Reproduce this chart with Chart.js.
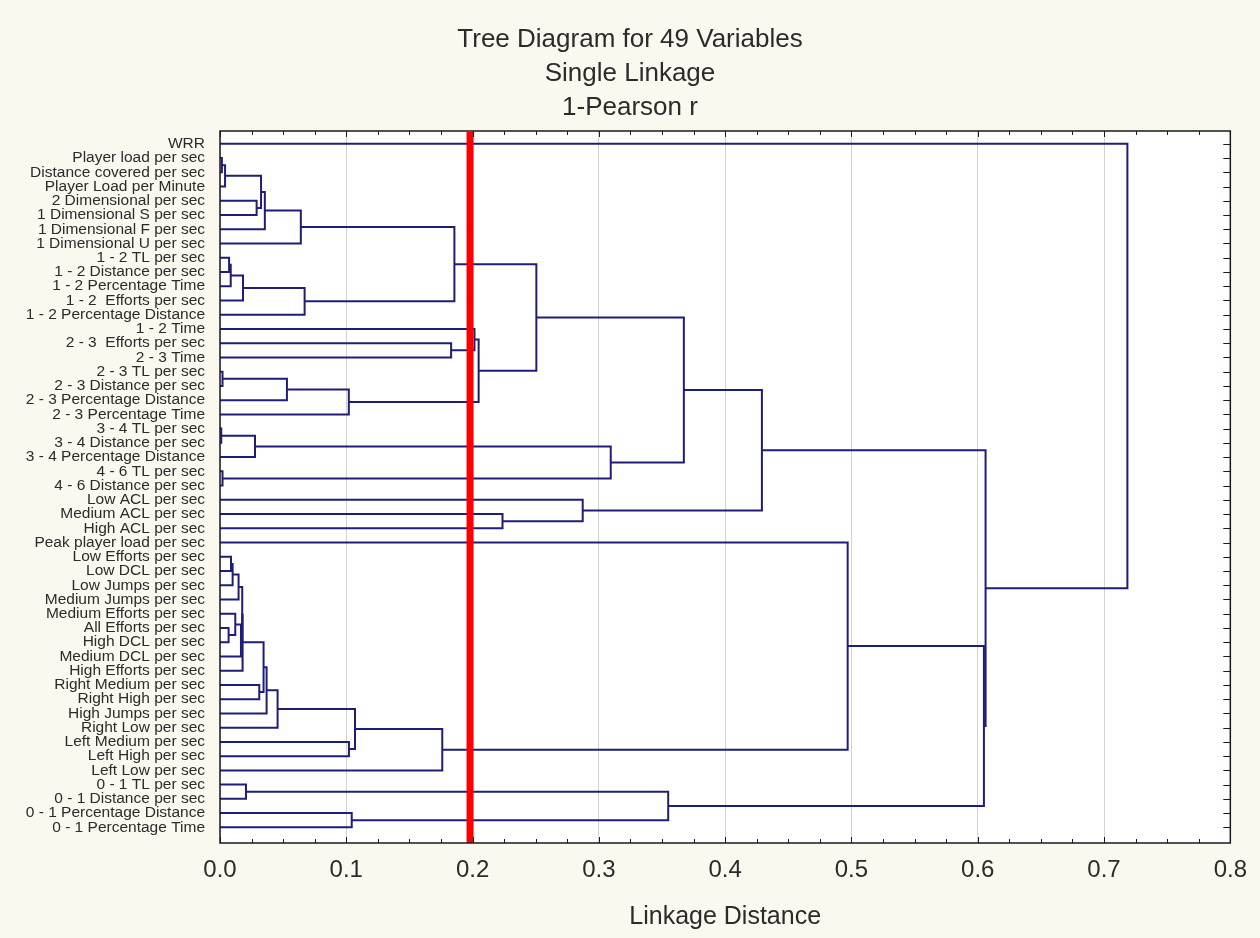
<!DOCTYPE html>
<html>
<head>
<meta charset="utf-8">
<title>Tree Diagram for 49 Variables</title>
<script src="https://cdn.jsdelivr.net/npm/chart.js@4.4.1/dist/chart.umd.min.js"></script>
<style>
  html, body { margin: 0; padding: 0; background: #fbf8f0; }
  #wrap { width: 1260px; height: 938px; }
</style>
</head>
<body>
<div id="wrap"><canvas id="tree" width="1260" height="938"></canvas></div>
<script>
// leaves, top to bottom, in dendrogram order
const leafLabels = [
  'WRR',
  'Player load per sec',
  'Distance covered per sec',
  'Player Load per Minute',
  '2 Dimensional per sec',
  '1 Dimensional S per sec',
  '1 Dimensional F per sec',
  '1 Dimensional U per sec',
  '1 - 2 TL per sec',
  '1 - 2 Distance per sec',
  '1 - 2 Percentage Time',
  '1 - 2  Efforts per sec',
  '1 - 2 Percentage Distance',
  '1 - 2 Time',
  '2 - 3  Efforts per sec',
  '2 - 3 Time',
  '2 - 3 TL per sec',
  '2 - 3 Distance per sec',
  '2 - 3 Percentage Distance',
  '2 - 3 Percentage Time',
  '3 - 4 TL per sec',
  '3 - 4 Distance per sec',
  '3 - 4 Percentage Distance',
  '4 - 6 TL per sec',
  '4 - 6 Distance per sec',
  'Low ACL per sec',
  'Medium ACL per sec',
  'High ACL per sec',
  'Peak player load per sec',
  'Low Efforts per sec',
  'Low DCL per sec',
  'Low Jumps per sec',
  'Medium Jumps per sec',
  'Medium Efforts per sec',
  'All Efforts per sec',
  'High DCL per sec',
  'Medium DCL per sec',
  'High Efforts per sec',
  'Right Medium per sec',
  'Right High per sec',
  'High Jumps per sec',
  'Right Low per sec',
  'Left Medium per sec',
  'Left High per sec',
  'Left Low per sec',
  '0 - 1 TL per sec',
  '0 - 1 Distance per sec',
  '0 - 1 Percentage Distance',
  '0 - 1 Percentage Time'
];

// [node a, node b, linkage distance]; nodes 0-48 are leaves, each merge gets the next id (49, 50, ...)
const merges = [
  [1, 2, 0.0015],   // 49
  [49, 3, 0.004],   // 50
  [4, 5, 0.029],    // 51
  [50, 51, 0.0325], // 52
  [52, 6, 0.0355],  // 53
  [53, 7, 0.064],   // 54
  [8, 9, 0.0072],   // 55
  [55, 10, 0.0085], // 56
  [56, 11, 0.0182], // 57
  [57, 12, 0.067],  // 58
  [54, 58, 0.1856], // 59
  [14, 15, 0.183],  // 60
  [13, 60, 0.2015], // 61
  [16, 17, 0.002],  // 62
  [62, 18, 0.053],  // 63
  [63, 19, 0.102],  // 64
  [61, 64, 0.2048], // 65
  [59, 65, 0.2505], // 66
  [20, 21, 0.001],  // 67
  [67, 22, 0.0277], // 68
  [23, 24, 0.002],  // 69
  [68, 69, 0.3094], // 70
  [66, 70, 0.3673], // 71
  [26, 27, 0.2237], // 72
  [25, 72, 0.2872], // 73
  [71, 73, 0.4291], // 74
  [29, 30, 0.0087], // 75
  [75, 31, 0.0100], // 76
  [76, 32, 0.0147], // 77
  [34, 35, 0.0068], // 78
  [33, 78, 0.0121], // 79
  [79, 36, 0.0166], // 80
  [77, 80, 0.0176], // 81
  [81, 37, 0.0179], // 82
  [38, 39, 0.0311], // 83
  [82, 83, 0.0345], // 84
  [84, 40, 0.0369], // 85
  [85, 41, 0.0456], // 86
  [42, 43, 0.1021], // 87
  [86, 87, 0.1069], // 88
  [88, 44, 0.176],  // 89
  [28, 89, 0.497],  // 90
  [45, 46, 0.0206], // 91
  [47, 48, 0.1043], // 92
  [91, 92, 0.3549], // 93
  [90, 93, 0.6049], // 94
  [74, 94, 0.6062], // 95
  [0, 95, 0.7185]   // 96
];

const distanceTicks = [0, 0.1, 0.2, 0.3, 0.4, 0.5, 0.6, 0.7, 0.8];
const cutDistance = 0.198;
const titleLines = ['Tree Diagram for 49 Variables', 'Single Linkage', '1-Pearson r'];

const LINK = '#1e1e78';
const TEXT = '#2b2b2b';
Chart.defaults.font.family = 'Arial, "Liberation Sans", sans-serif';

// node position (leaf units) and height; a merged node sits midway between its children
const nodeY = leafLabels.map((_, i) => i);
const nodeH = leafLabels.map(() => 0);

const datasets = merges.map(([a, b, d]) => {
  const pts = [
    { x: nodeH[a], y: nodeY[a] },
    { x: d, y: nodeY[a] },
    { x: d, y: nodeY[b] },
    { x: nodeH[b], y: nodeY[b] }
  ];
  nodeY.push((nodeY[a] + nodeY[b]) / 2);
  nodeH.push(d);
  return {
    data: pts,
    showLine: true,
    borderColor: LINK,
    borderWidth: 2,
    pointRadius: 0,
    tension: 0,
    fill: false
  };
});

const framePlugin = {
  id: 'frame',
  beforeDraw(chart) {
    const { ctx, chartArea: a } = chart;
    ctx.save();
    ctx.fillStyle = '#ffffff';
    ctx.fillRect(a.left, a.top, a.right - a.left, a.bottom - a.top);
    ctx.restore();
  },
  afterDatasetsDraw(chart) {
    const { ctx, chartArea: a, scales } = chart;
    ctx.save();
    // cut line
    const cx = scales.x.getPixelForValue(cutDistance);
    ctx.fillStyle = '#ff0000';
    ctx.fillRect(cx - 3.5, a.top + 1, 7, a.bottom - a.top - 1);

    // frame and inward ticks
    ctx.strokeStyle = '#1a1a1a';
    ctx.lineWidth = 1.5;
    ctx.strokeRect(a.left, a.top, a.right - a.left, a.bottom - a.top);
    ctx.lineWidth = 1;
    ctx.beginPath();
    for (let k = 0; k <= 32; k++) {
      const px = Math.round(scales.x.getPixelForValue(k * 0.025)) + 0.5;
      const len = k % 4 === 0 ? 6 : 4;
      ctx.moveTo(px, a.bottom);
      ctx.lineTo(px, a.bottom - len);
      ctx.moveTo(px, a.top);
      ctx.lineTo(px, a.top + len);
    }
    leafLabels.forEach((_, i) => {
      const py = Math.round(scales.y.getPixelForValue(i)) + 0.5;
      ctx.moveTo(a.right, py);
      ctx.lineTo(a.right - 7, py);
    });
    ctx.stroke();
    ctx.restore();
  }
};

new Chart(document.getElementById('tree'), {
  type: 'scatter',
  data: { datasets },
  plugins: [framePlugin],
  options: {
    responsive: false,
    devicePixelRatio: 1,
    animation: false,
    layout: { padding: 0 },
    plugins: {
      legend: { display: false },
      tooltip: { enabled: false },
      title: {
        display: true,
        text: titleLines,
        color: TEXT,
        font: { size: 26, weight: 'normal', lineHeight: '34px' },
        padding: { top: 23, bottom: 6 }
      }
    },
    scales: {
      x: {
        type: 'linear',
        min: 0,
        max: 0.8,
        afterBuildTicks: s => { s.ticks = distanceTicks.map(v => ({ value: v })); },
        afterFit: s => { s.height = 95; },
        ticks: {
          padding: 13,
          color: TEXT,
          maxRotation: 0,
          font: { size: 24 },
          callback: v => v.toFixed(1)
        },
        grid: { color: '#d2d2d2', lineWidth: 1, drawTicks: false },
        border: { display: false },
        title: {
          display: true,
          text: 'Linkage Distance',
          color: TEXT,
          font: { size: 25 },
          padding: { top: 0, bottom: 6 }
        }
      },
      y: {
        type: 'linear',
        reverse: true,
        min: -0.9,
        max: 49.1,
        afterBuildTicks: s => { s.ticks = leafLabels.map((_, i) => ({ value: i })); },
        afterFit: s => { s.width = 220; },
        ticks: {
          autoSkip: false,
          padding: 15,
          color: TEXT,
          font: { size: 15.5 },
          callback: v => leafLabels[v]
        },
        grid: { display: false, drawTicks: false },
        border: { display: false }
      },
      // empty strip on the right so the plot ends short of the canvas edge
      yRight: {
        type: 'linear',
        position: 'right',
        afterFit: s => { s.width = 28; },
        ticks: { display: false },
        grid: { display: false, drawTicks: false },
        border: { display: false }
      }
    }
  }
});
</script>
</body>
</html>
